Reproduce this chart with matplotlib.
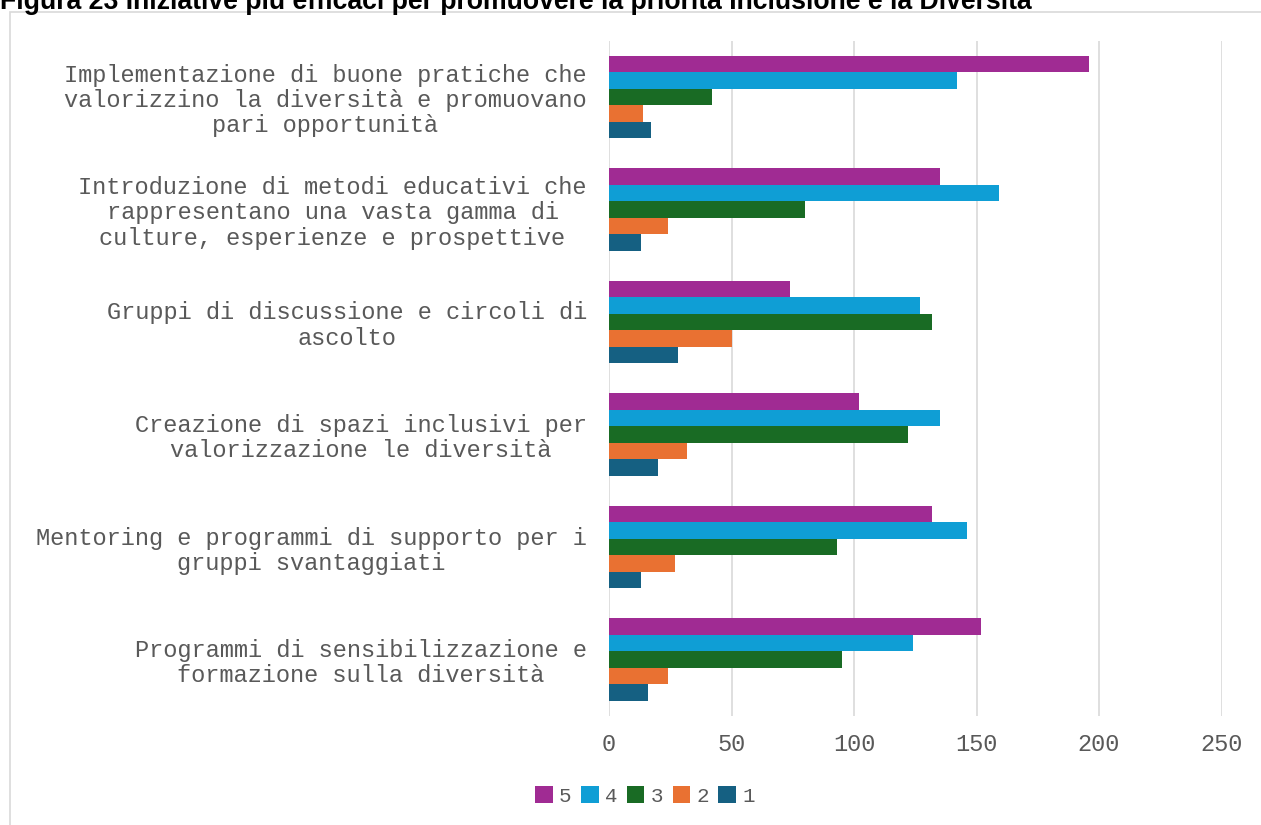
import numpy as np
import matplotlib
matplotlib.use("Agg")
import matplotlib.pyplot as plt
from matplotlib.patches import Rectangle

categories = [
    "Implementazione di buone pratiche che\nvalorizzino la diversità e promuovano\npari opportunità",
    "Introduzione di metodi educativi che\nrappresentano una vasta gamma di\nculture, esperienze e prospettive",
    "Gruppi di discussione e circoli di\nascolto",
    "Creazione di spazi inclusivi per\nvalorizzazione le diversità",
    "Mentoring e programmi di supporto per i\ngruppi svantaggiati",
    "Programmi di sensibilizzazione e\nformazione sulla diversità",
]
series_names = ["5", "4", "3", "2", "1"]
vals_5 = [196, 135, 74, 102, 132, 152]
vals_4 = [142, 159, 127, 135, 146, 124]
vals_3 = [42, 80, 132, 122, 93, 95]
vals_2 = [14, 24, 50, 32, 27, 24]
vals_1 = [17, 13, 28, 20, 13, 16]
series_vals = [vals_5, vals_4, vals_3, vals_2, vals_1]
colors = ["#A02B93", "#0F9ED5", "#196B24", "#E97132", "#156082"]
x_ticks = [0, 50, 100, 150, 200, 250]

title = "Figura 23 Iniziative più efficaci per promuovere la priorità Inclusione e la Diversità"
grey = "#595959"
mono = "Liberation Mono"

fig = plt.figure(figsize=(12.61, 8.25), dpi=100)
ax = fig.add_axes([609 / 1261, 109 / 825, 612.5 / 1261, 675.5 / 825])

idx = np.arange(len(categories))
bar_h = 0.1466
for k, (name, vals, c) in enumerate(zip(series_names, series_vals, colors)):
    offs = (k - 2) * bar_h
    ax.barh(idx + offs, vals, height=bar_h, color=c, label=name, linewidth=0, zorder=3)

ax.set_ylim(len(categories) - 0.5, -0.5)
ax.set_xlim(0, 250)
ax.set_xticks(x_ticks)
ax.set_xticklabels([str(t) for t in x_ticks], fontfamily=mono, fontsize=17, color=grey)
ax.set_yticks(idx)
ax.set_yticklabels(categories, fontfamily=mono, fontsize=17, color=grey,
                   multialignment="center", linespacing=1.12)
ax.tick_params(axis="both", length=0)
ax.tick_params(axis="x", pad=12)
ax.tick_params(axis="y", pad=16)
ax.grid(axis="x", color="#d9d9d9", linewidth=1.2, zorder=0)
ax.grid(axis="y", visible=False)
for s in ax.spines.values():
    s.set_visible(False)

leg = fig.legend(loc="center", bbox_to_anchor=(645 / 1261, 1 - 796 / 825), ncol=5,
                 frameon=False, handlelength=0.85, handleheight=0.85,
                 handletextpad=0.3, columnspacing=0.45,
                 prop={"family": mono, "size": 15})
for t in leg.get_texts():
    t.set_color(grey)

fig.add_artist(Rectangle((10 / 1261, -0.01), 1.0, 1 - 12 / 825 + 0.01,
                         transform=fig.transFigure, fill=False,
                         edgecolor="#d9d9d9", linewidth=1.2))
fig.text(0.0, 1 - 9 / 825, title, ha="left", va="baseline",
         fontfamily="Liberation Sans", fontweight="bold", fontsize=19.2, color="black")

fig.savefig("out.png", dpi=100)
